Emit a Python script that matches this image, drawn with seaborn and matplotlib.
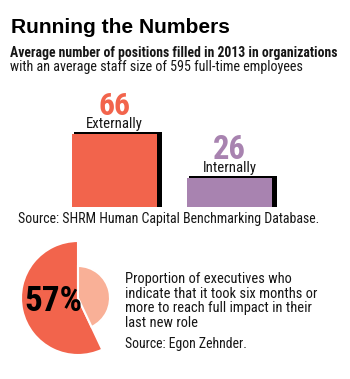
import matplotlib
matplotlib.use("Agg")
import matplotlib.pyplot as plt
import seaborn as sns
from matplotlib.patches import Rectangle

sns.set_theme(style="white")
NARROW = ['Roboto Condensed', 'DejaVu Sans']
WIDE = ['Liberation Sans', 'DejaVu Sans']
plt.rcParams['font.family'] = NARROW

# ---- data ----
bar_categories = ["Externally", "Internally"]
bar_values = [66, 26]
bar_colors = ["#F2644C", "#A883B0"]
pie_labels = ["Six months or more", "Less than six months"]
pie_values = [57, 43]
pie_colors = ["#F2644C", "#F9B097"]

title = "Running the Numbers"
subtitle1 = "Average number of positions filled in 2013 in organizations"
subtitle2 = "with an average staff size of 595 full-time employees"
source1 = "Source: SHRM Human Capital Benchmarking Database."
pie_text = ["Proportion of executives who",
            "indicate that it took six months or",
            "more to reach full impact in their",
            "last new role"]
source2 = "Source: Egon Zehnder."

TXT = "#161616"
W, H = 350, 379
fig = plt.figure(figsize=(W / 100, H / 100), dpi=100)
fig.patch.set_facecolor("white")
renderer = fig.canvas.get_renderer()


def fit(t, target_px):
    for _ in range(3):
        bb = t.get_window_extent(renderer)
        t.set_fontsize(t.get_fontsize() * target_px / bb.width)
    return t


def fx(x):
    return x / W


def fy(y):
    return 1 - y / H


def ftext(x, y, s, width, **kw):
    t = fig.text(fx(x), fy(y), s, va="baseline", fontsize=10, **kw)
    return fit(t, width)


ftext(11, 33, title, 221, fontweight="bold", family=WIDE, color="black")
ftext(10, 56.5, subtitle1, 328, fontweight="semibold", color=TXT)
ftext(10, 71.5, subtitle2, 295, color=TXT)

# ---- bars ----
ax = fig.add_axes([fx(57), fy(207), 230 / W, 73 / H])
sns.barplot(x=bar_categories, y=bar_values, hue=bar_categories, palette=bar_colors,
            width=0.739, saturation=1, legend=False, ax=ax, zorder=3,
            linewidth=0, edgecolor="none")
ax.set_xlim(-0.5, 1.5)
ax.set_ylim(0, max(bar_values))
ax.set_axis_off()

px_x = 2.0 / 230.0             # data units per pixel (x)
px_y = max(bar_values) / 73.0  # data units per pixel (y)
label_w = {"Externally": 57, "Internally": 54}
num_w = {"Externally": 32, "Internally": 33}
for p, cat, val, col in zip(ax.patches, bar_categories, bar_values, bar_colors):
    x0, w, h = p.get_x(), p.get_width(), p.get_height()
    shadow = Rectangle((x0 + 2 * px_x, 0), w + 3 * px_x, h + 2.5 * px_y,
                       facecolor="black", edgecolor="none", zorder=2, clip_on=False)
    ax.add_patch(shadow)
    cx = x0 + w / 2
    t1 = ax.text(cx, h + 6.3 * px_y, cat, ha="center", va="baseline", fontsize=10,
                 color=TXT, clip_on=False)
    fit(t1, label_w[cat])
    t2 = ax.text(cx, h + 19 * px_y, str(val), ha="center", va="baseline", fontsize=20,
                 fontweight="bold", color=col, clip_on=False)
    fit(t2, num_w[cat])

ftext(18, 223, source1, 300, color=TXT)

# ---- pie ----
pax = fig.add_axes([fx(21), fy(355), 114 / W, 114 / H])
wedges, _ = pax.pie(pie_values, colors=pie_colors, startangle=90, counterclock=True,
                    radius=1, wedgeprops=dict(edgecolor="white", linewidth=1.5))
wedges[1].set_radius(32 / 57)
pax.set_xlim(-1, 1)
pax.set_ylim(-1, 1)
pax.set_aspect("equal")
pax.set_axis_off()
t57 = fig.text(fx(53), fy(310.7), f"{pie_values[0]}%", va="baseline", ha="center",
               fontsize=20, fontweight="bold", color="black")
fit(t57, 58)

ref = ftext(125, 283, pie_text[1], 192, color=TXT)
size = ref.get_fontsize()
ref.set_position((fx(125), fy(283 + 14.6)))
for i, line in enumerate(pie_text):
    if i == 1:
        continue
    fig.text(fx(125), fy(283 + i * 14.6), line, va="baseline", fontsize=size, color=TXT)
ftext(125, 348, source2, 121, color=TXT)

fig.savefig("out.png", dpi=100, facecolor="white")
